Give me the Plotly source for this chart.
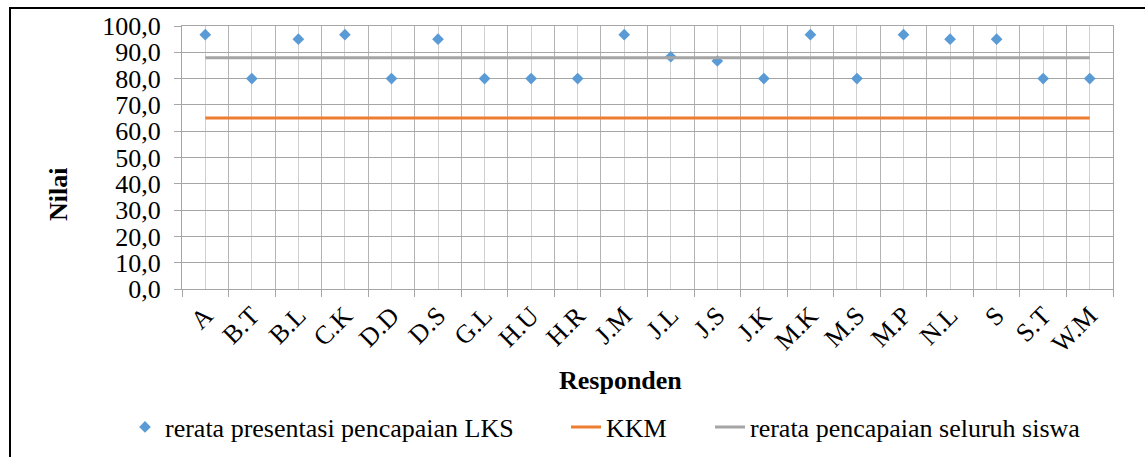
import plotly.graph_objects as go

categories = ["A", "B.T", "B.L", "C.K", "D.D", "D.S", "G.L", "H.U", "H.R", "J.M",
              "J.L", "J.S", "J.K", "M.K", "M.S", "M.P", "N.L", "S", "S.T", "W.M"]
lks_values = [96.7, 80.0, 95.0, 96.7, 80.0, 95.0, 80.0, 80.0, 80.0, 96.7,
              88.3, 86.7, 80.0, 96.7, 80.0, 96.7, 95.0, 95.0, 80.0, 80.0]
kkm_value = 65.0
avg_value = 87.9
y_ticks = [0, 10, 20, 30, 40, 50, 60, 70, 80, 90, 100]

n = len(categories)
idx = list(range(n))
FONT = "Liberation Serif"
FS = 26

fig = go.Figure()
fig.add_trace(go.Scatter(
    x=idx, y=lks_values, mode="markers", name="rerata presentasi pencapaian LKS",
    marker=dict(symbol="diamond", size=9, color="#5B9BD5", line=dict(width=0)),
    legend="legend",
))
fig.add_trace(go.Scatter(
    x=idx, y=[kkm_value] * n, mode="lines", name="KKM",
    line=dict(color="#ED7D31", width=3),
    legend="legend2",
))
fig.add_trace(go.Scatter(
    x=idx, y=[avg_value] * n, mode="lines", name="rerata pencapaian seluruh siswa",
    line=dict(color="#A5A5A5", width=3),
    legend="legend3",
))

L, R, T, B = 182, 32, 26, 168
W = 1145 - L - R
H = 457 - T - B

def px(xp):
    return (xp - L) / W

def py(yp):
    return (457 - B - yp) / H

def leg(text_start):
    return dict(orientation="h", x=px(text_start - 42), y=py(427),
                xanchor="left", yanchor="middle",
                font=dict(family=FONT, size=FS, color="black"),
                bgcolor="rgba(0,0,0,0)", borderwidth=0)

fig.update_layout(
    width=1145, height=457,
    margin=dict(l=L, r=R, t=T, b=B, autoexpand=False),
    paper_bgcolor="white", plot_bgcolor="white",
    separators=",.",
    font=dict(family=FONT, size=FS, color="black"),
    showlegend=True,
    legend=leg(167),
    legend2=leg(608),
    legend3=leg(752),
    xaxis=dict(
        range=[-0.5, n - 0.5],
        tickmode="array", tickvals=idx, ticktext=categories,
        tickangle=-45, ticks="",
        showgrid=True, gridcolor="#D0D0D0", gridwidth=1,
        showline=True, linecolor="#A6A6A6", linewidth=1, mirror=True,
        zeroline=False,
        tickfont=dict(family=FONT, size=FS, color="black"),
        minor=dict(tickmode="array", tickvals=[i - 0.5 for i in range(n + 1)],
                   ticks="outside", ticklen=7, tickcolor="#A6A6A6", tickwidth=1,
                   showgrid=True, gridcolor="#B4B4B4", gridwidth=1),
    ),
    yaxis=dict(
        range=[0, 100], tickmode="array", tickvals=y_ticks, tickformat=".1f",
        ticks="outside", ticklen=7, tickcolor="#A6A6A6",
        showgrid=True, gridcolor="#A6A6A6", gridwidth=1,
        showline=True, linecolor="#A6A6A6", linewidth=1, mirror=True,
        zeroline=False,
        tickfont=dict(family=FONT, size=FS, color="black"),
        ticklabelstandoff=8,
    ),
    annotations=[
        dict(text="<b>Nilai</b>", x=px(58), y=py(195), xref="paper", yref="paper",
             showarrow=False, textangle=-90, font=dict(family=FONT, size=FS, color="black"),
             xanchor="center", yanchor="middle"),
        dict(text="<b>Responden</b>", x=px(620), y=py(381), xref="paper", yref="paper",
             showarrow=False, font=dict(family=FONT, size=FS, color="black"),
             xanchor="center", yanchor="middle"),
    ],
    shapes=[
        dict(type="rect", xref="paper", yref="paper",
             x0=px(10), x1=px(1160), y0=py(470), y1=py(8),
             line=dict(color="black", width=2), fillcolor="rgba(0,0,0,0)", layer="above"),
    ],
)

fig.write_html("out.html")
